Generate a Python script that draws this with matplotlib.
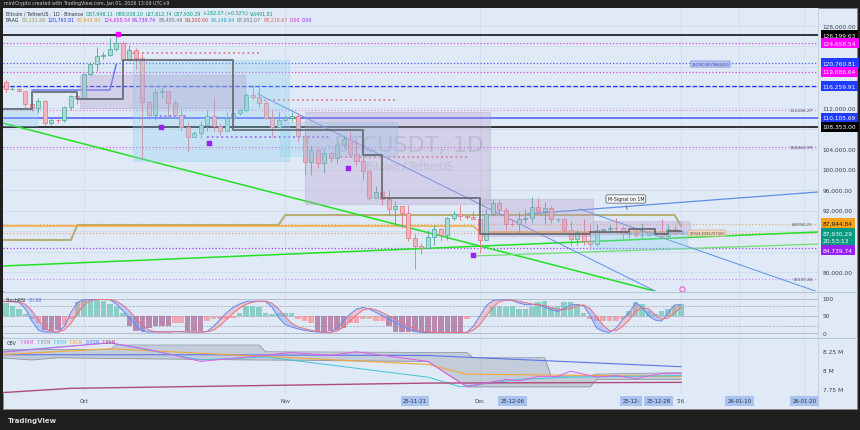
import matplotlib.pyplot as plt
from matplotlib.patches import Rectangle
from matplotlib.lines import Line2D

# x = day index: 0 = 2025-09-18 ... 105 = 2026-01-01
opens = [116400, 117100, 115700, 115700, 115300, 112700, 112000, 113300, 109000, 109700, 109600, 112100, 114300,
         114000, 118600, 120500, 122200, 122400, 123500, 124700, 121400, 123300, 121700,
         113200, 110600, 115200, 115300, 113000, 110700, 108200, 106400, 107200, 108600,
         110500, 108400, 107600, 110100, 111000, 111600, 114500, 114100, 112900, 110000, 108300,
         109600, 110100, 110500, 106500, 101500, 103900, 101300, 103300, 102200, 104700,
         106000, 103000, 101600, 99700, 94500, 95600, 94200, 92200, 92900, 91500,
         86600, 85100, 84700, 86800, 88300, 87300, 90500, 91300, 90900, 90800,
         90400, 86300, 91300, 93500, 92100, 89400, 89300, 90400, 90600, 92700,
         92000, 92500, 90300, 90300, 88100, 86400, 87800, 86100, 85500, 88100,
         88300, 88600, 88500, 87400, 87600, 87200, 87300, 87800, 87800, 87100, 88400,
         87648]
highs = [117900, 117500, 116300, 115900, 115400, 113300, 114000, 113500, 110300, 109800, 112400, 114500, 114800,
         118700, 121000, 123900, 122900, 125700, 126199, 125100, 124200, 123800, 122500,
         113400, 115800, 116000, 115400, 113600, 111900, 109300, 107500, 109400, 111700,
         114000, 109100, 111300, 112000, 111900, 115000, 116400, 116100, 113600, 111600, 111200,
         110600, 111200, 110800, 107300, 104800, 104200, 104100, 103500, 105000, 106700,
         107500, 105300, 104000, 99800, 96800, 96600, 96000, 93800, 92900, 93100,
         87500, 85600, 88100, 89200, 88500, 90700, 91900, 93100, 91200, 92000,
         90400, 92300, 94200, 94100, 92700, 90300, 91800, 92300, 94600, 94500,
         93600, 92800, 90600, 90600, 90000, 88200, 90400, 89500, 89400, 88600,
         89100, 90600, 88900, 87900, 88500, 89500, 88000, 88000, 90300, 89400, 89200,
         88038]
lows = [116100, 115100, 115500, 115200, 112000, 111500, 111100, 108600, 108600, 109100, 109300, 111600, 112700,
        113900, 118400, 119300, 121600, 122200, 123100, 120600, 121100, 119700, 102000,
        109600, 109700, 113900, 110000, 110200, 107500, 103500, 106300, 106100, 107500,
        107400, 106700, 107500, 109700, 110700, 111300, 113800, 112200, 109900, 106300, 108300,
        109400, 109500, 105300, 98900, 98900, 100300, 99300, 101400, 101300, 104300,
        102500, 100800, 98000, 94000, 94500, 93000, 91200, 89300, 88600, 86100,
        80600, 83500, 84700, 85300, 86100, 86300, 90100, 90200, 90300, 90300,
        83800, 86200, 91000, 91600, 88100, 88900, 87700, 89600, 89500, 91600,
        89300, 89500, 89800, 87600, 85100, 85300, 85300, 84500, 85100, 87900,
        87600, 88000, 86500, 86600, 86900, 86600, 87100, 87300, 86800, 86800, 87300,
        87613]
closes = [117100, 115700, 115700, 115300, 112700, 112000, 113300, 109000, 109700, 109600, 112100, 114300, 114000,
          118600, 120500, 122200, 122400, 123500, 124700, 121400, 123300, 121700, 113200,
          110600, 115200, 115300, 113000, 110700, 108200, 106400, 107200, 108600, 110500,
          108400, 107600, 110100, 111000, 111600, 114500, 114100, 112900, 110000, 108300, 109600,
          110100, 110500, 106500, 101500, 103900, 101300, 103300, 102200, 104700, 106000,
          103000, 101600, 99700, 94500, 95600, 94200, 92200, 92900, 91500, 86600,
          85100, 84700, 86800, 88300, 87300, 90500, 91300, 90900, 90800, 90400,
          86300, 91300, 93500, 92100, 89400, 89300, 90400, 90600, 92700, 92000,
          92500, 90300, 90300, 88100, 86400, 87800, 86100, 85500, 88100, 88300,
          88600, 88500, 87400, 87600, 87200, 87300, 87800, 87800, 87100, 88400, 87650,
          87930]

# horizontal levels across the chart
level_price = [126199.63, 124658.54, 120760.81, 119086.64, 116259.91, 111696.27,
               110105.69, 108353.00, 104462.99, 89294.25, 87610.0, 84739.74, 78595.86]
level_color = ['#000000', '#e040e0', '#4a5cf0', '#e040e0', '#2030ff', '#e58ad8',
               '#4a55ff', '#000000', '#e060e0', '#e0b070', '#f0a080', '#a040f0', '#c890f0']
level_style = ['-', ':', ':', ':', '--', ':', '-', '-', ':', ':', ':', ':', ':']

# short dotted segments (start day, end day, price)
seg_x0 = [19, 40, 51, 24, 32]
seg_x1 = [40, 61, 72, 29, 51]
seg_p = [122730, 113560, 102440, 110440, 106340]
seg_color = ['#e07a8a', '#e07a8a', '#e07a8a', '#a040f0', '#a040f0']

# step / trailing lines
gray_x = [0, 5, 12, 19, 36, 56, 59, 74, 91, 97, 101, 103, 105]
gray_p = [111800, 115100, 113750, 121350, 107700, 102830, 94440, 87420, 87800, 88390, 87420, 88000, 88000]
olive_x = [0, 11, 12, 43, 44, 104, 105]
olive_p = [86250, 86250, 89170, 89170, 91120, 91120, 88980]
orange_x = [0, 73, 74, 105]
orange_p = [88980, 88980, 87800, 87800]
blue_x = [5, 17, 18]
blue_p = [115510, 115510, 120585]

# trend lines (day0, price0, day1, price1)
trend = [(0.5, 109070, 101.8, 76000, '#22e022', 1.1),
         (0.5, 81170, 126.1, 87800, '#22e022', 1.1),
         (72.8, 83120, 126.1, 85460, '#6ee06e', 0.9),
         (39.8, 114730, 101.3, 76100, '#5d8fe8', 0.7),
         (89.4, 92290, 126.1, 76100, '#5d8fe8', 0.7),
         (81.3, 91320, 126.1, 95610, '#5d8fe8', 0.9)]

# zones (day0, day1, top, bottom)
zones = [(20.6, 44.6, 121370, 101660, '#8fd0ee'),
         (0.5, 5.8, 112000, 108490, '#8fd0ee'),
         (43.2, 61.2, 109270, 102630, '#8fd0ee'),
         (91.0, 105.9, 87800, 84490, '#8fd0ee'),
         (12.4, 37.8, 118440, 112000, '#b49ccc'),
         (47.1, 75.6, 111220, 93270, '#b49ccc'),
         (74.3, 91.4, 94240, 87020, '#b49ccc'),
         (91.4, 106.4, 89950, 87420, '#b49ccc')]

sig_x = [24.9, 32.3, 53.7, 73.0]
sig_p = [108290, 105170, 100290, 83320]

# Stoch RSI
stoch_k = [92, 92, 92, 90, 70, 35, 8, 3, 3, 3, 20, 60, 90, 97, 98, 98, 98, 97, 85, 65,
           45, 20, 5, 3, 3, 4, 3, 5, 4, 3, 3, 3, 5, 20, 40, 60, 75, 85, 92, 93,
           93, 92, 75, 45, 25, 18, 12, 8, 5, 3, 2, 2, 15, 35, 55, 70, 75, 70, 60, 50,
           40, 30, 20, 12, 5, 2, 2, 2, 2, 2, 2, 2, 2, 20, 50, 80, 95, 97, 97, 95,
           88, 83, 83, 83, 75, 68, 63, 72, 82, 83, 80, 50, 15, 5, 2, 15, 40, 60, 88, 75,
           50, 38, 35, 60, 82, 83]
stoch_d = [95, 93, 92, 91, 84, 65, 38, 15, 5, 3, 9, 28, 57, 82, 95, 98, 98, 98, 93, 82,
           65, 43, 23, 9, 4, 3, 3, 4, 4, 4, 3, 3, 4, 9, 22, 40, 58, 73, 84, 90,
           93, 93, 87, 71, 48, 29, 18, 13, 8, 5, 3, 2, 6, 17, 35, 53, 67, 72, 68, 60,
           50, 40, 30, 21, 12, 6, 3, 2, 2, 2, 2, 2, 2, 8, 24, 50, 75, 91, 96, 96,
           93, 89, 85, 83, 80, 75, 69, 68, 72, 79, 82, 71, 48, 23, 7, 7, 19, 38, 63, 74,
           71, 54, 41, 44, 59, 75]
stoch_hist = [35, 38, 30, 20, 5, -10, -20, -40, -45, -40, -25, -10, 40, 47, 47, 47, 45, 35, 25, 10,
              -30, -45, -45, -35, -30, -30, -30, -20, -20, -45, -45, -45, -15, -10, -10, -8, -5, 10, 30, 30,
              25, 10, 5, 8, 10, 8, -10, -15, -20, -45, -47, -45, -40, -35, -20, -20, -10, -10, -15, -15,
              -30, -47, -47, -47, -47, -47, -47, -47, -47, -47, -47, -47, -10, 0, 0, 0, 25, 28, 25, 30,
              20, 20, 25, 40, 43, 25, 30, 40, 40, 35, 10, -10, -15, -15, -15, -15, -8, 15, 40, 35,
              15, 5, 15, 20, 28, 35]

# OBV panel (day, value in M)
obv_x = [0, 17, 23, 31, 45, 51, 55, 66, 72, 78, 80, 83, 86, 88, 92, 95, 98, 102, 105]
obv_v = [8.24, 8.37, 8.28, 8.12, 8.24, 8.20, 8.25, 8.12, 7.78, 7.88, 7.86, 7.92, 7.92, 7.99, 7.91, 7.93, 7.89, 7.96, 7.96]
cyan_x = [0, 17, 31, 41, 66, 71, 80, 88, 105]
cyan_v = [8.25, 8.37, 8.14, 8.18, 7.91, 7.78, 7.88, 7.91, 7.93]
orng_x = [0, 17, 66, 72, 105]
orng_v = [8.21, 8.29, 8.08, 7.95, 7.92]
blu_x = [0, 30, 66, 105]
blu_v = [8.21, 8.21, 8.20, 8.05]
band_x = [0, 5, 9, 17, 18, 40, 41, 66, 72, 73, 84, 85, 91, 92, 105]
band_hi = [8.28, 8.28, 8.28, 8.28, 8.34, 8.34, 8.25, 8.24, 8.24, 8.17, 8.17, 7.92, 7.93, 7.95, 7.97]
band_lo = [8.17, 8.14, 8.17, 8.16, 8.16, 8.14, 8.14, 8.12, 7.78, 7.78, 7.78, 7.78, 7.78, 7.88, 7.88]
mar_x = [0, 11, 66, 105]
mar_v = [7.70, 7.76, 7.83, 7.84]

# ---------------- layout ----------------
W, H = 860, 431
BG = '#dfeaf6'
GRID = '#cddae8'
fig = plt.figure(figsize=(W / 100, H / 100), dpi=100, facecolor='#1f1f1f')


def fbox(x0, y0, x1, y1):
    return [x0 / W, 1 - y1 / H, (x1 - x0) / W, (y1 - y0) / H]


def ptxt(x, y, s, **kw):
    return fig.text(x / W, 1 - y / H, s, **kw)


fig.patches.append(Rectangle((3 / W, 1 - 410 / H), 854 / W, 401 / H, transform=fig.transFigure,
                             fc=BG, ec='#888888', lw=0.6, zorder=-5))

ax = fig.add_axes(fbox(3, 9, 818, 292))
ax2 = fig.add_axes(fbox(3, 294, 818, 338), sharex=ax)
ax3 = fig.add_axes(fbox(3, 340, 818, 395), sharex=ax)
for a in (ax, ax2, ax3):
    a.set_facecolor(BG)
    for s in a.spines.values():
        s.set_visible(False)
    a.tick_params(left=False, bottom=False, labelleft=False, labelbottom=False)
ax.set_xlim(0.54, 126.1)
ax.set_ylim(76293, 131512)
ax2.set_ylim(-11.4, 117)
ax3.set_ylim(7.684, 8.421)

for yy in (293, 339):
    fig.add_artist(Line2D([3 / W, 857 / W], [1 - yy / H] * 2, color='#b9c6d4', lw=0.8))
fig.add_artist(Line2D([818 / W] * 2, [1 - 9 / H, 1 - 410 / H], color='#c3cfdc', lw=0.6))

month_x = [13, 44, 74, 105]
month_names = ['Oct', 'Nov', 'Dec', "'26"]
mark_x = [64, 79, 97.3, 101.5, 114, 124]
mark_names = ['25-11-21', '25-12-06', '25-12-', '25-12-28', '26-01-10', '26-01-20']

for a in (ax, ax2, ax3):
    for d in month_x + [114, 124]:
        a.axvline(d, color=GRID, lw=0.5, zorder=0)
for p in range(80000, 132000, 4000):
    ax.axhline(p, color=GRID, lw=0.5, zorder=0)

# zones (drawn over the candles, translucent)
for d0, d1, top, bot, c in zones:
    ax.add_patch(Rectangle((d0, bot), d1 - d0, top - bot, fc=c, ec=c, alpha=0.32, lw=0.8, zorder=5.5))

# watermark
ax.text(0.498, 0.516, 'BTCUSDT, 1D', transform=ax.transAxes, ha='center', va='center',
        fontsize=16, color='#8a8f99', alpha=0.35, zorder=1)
ax.text(0.499, 0.442, 'Bitcoin / TetherUS', transform=ax.transAxes, ha='center', va='center',
        fontsize=7, color='#8a8f99', alpha=0.35, zorder=1)

# levels
for p, c, ls in zip(level_price, level_color, level_style):
    lw = 1.1 if ls == '-' else 0.9
    ax.axhline(p, color=c, ls=ls, lw=lw, zorder=2)
for x0, x1, p, c in zip(seg_x0, seg_x1, seg_p, seg_color):
    ax.hlines(p, x0, x1, colors=c, linestyles=':', lw=1.3, zorder=2)

ax.step(gray_x, gray_p, where='post', color='#60656c', lw=1.4, alpha=0.85, zorder=6)
ax.plot(olive_x, olive_p, color='#b3a768', lw=1.5, alpha=0.9, zorder=2)
ax.plot(orange_x, orange_p, color='#f3a73a', lw=1.1, zorder=2)
ax.plot(blue_x, blue_p, color='#5c6bf5', lw=1.0, zorder=2)
for d0, p0, d1, p1, c, lw in trend:
    ax.plot([d0, d1], [p0, p1], color=c, lw=lw, zorder=3)

# candles
w = 0.62
for i, (o, h, l, c) in enumerate(zip(opens, highs, lows, closes)):
    up = c >= o
    edge = '#4aa596' if up else '#e27380'
    face = '#a8dcd3' if up else '#f2b6bc'
    ax.vlines(i, l, h, color=edge, lw=0.6, zorder=4)
    ax.add_patch(Rectangle((i - w / 2, min(o, c)), w, max(abs(c - o), 80),
                           fc=face, ec=edge, lw=0.5, zorder=5))

ax.scatter(sig_x, sig_p, marker='s', s=5, color='#9b1ff0', zorder=7)
ax.scatter([18.3], [126500], marker='s', s=6, color='#ff00ff', zorder=7)
ax.scatter([105.2], [76700], marker='o', s=14, fc='#f6dff2', ec='#d040c0', lw=0.6, zorder=7)

# in-chart level text
for p, s in zip([111696.27, 104462.99, 89294.25, 78595.86],
                ['111696.27', '104462.99', '89294.25', '78595.86']):
    ax.text(125.3, p, s, ha='right', va='center', fontsize=3.2, color='#555b66', style='italic', zorder=8)

ax.text(109.5, 120585, '120760.8079865203', ha='center', va='center', fontsize=2.6, color='#3040a0',
        bbox=dict(boxstyle='round,pad=0.3', fc='#b8c4f4', ec='#8a98e6', lw=0.5), zorder=8)
ax.text(109.0, 87610, '87944.8395707406', ha='center', va='center', fontsize=2.6, color='#6b4a2a',
        bbox=dict(boxstyle='round,pad=0.3', fc='#ead8c4', ec='#d8b898', lw=0.5), zorder=8)
ax.annotate('M-Signal on 1M', xy=(96.7, 91700), xytext=(96.5, 94250), ha='center', va='center',
            fontsize=3.4, color='#222222', zorder=9,
            bbox=dict(boxstyle='round,pad=0.35', fc='#f4f6fa', ec='#555555', lw=0.5),
            arrowprops=dict(arrowstyle='-', color='#555555', lw=0.6))

# right price scale
tick_p = [128000, 112000, 104000, 100000, 96000, 92000, 80000]
for p in tick_p:
    ax.text(1.006, p, f'{p:,.2f}', transform=ax.get_yaxis_transform(), ha='left', va='center',
            fontsize=4.2, color='#3a3f48', clip_on=False)

tag_text = ['126,199.63', '124,658.54', '120,760.81', '119,086.64', '116,259.91', '110,105.69',
            '108,353.00', '87,944.84', '87,930.29\n20:53:13', '84,739.74']
tag_at = [126199.63, 124658.54, 120760.81, 119086.64, 116259.91, 110105.69,
          108353.00, 89560, 86900, 84290]
tag_bg = ['#000000', '#ff00ff', '#1f3cff', '#ff00ff', '#1f3cff', '#1f3cff',
          '#000000', '#f7a21b', '#089981', '#9a1ff2']
tag_fg = ['white', 'white', 'white', 'white', 'white', 'white', 'white', '#1a1a1a', 'white', 'white']
for s, p, bg, fg in zip(tag_text, tag_at, tag_bg, tag_fg):
    ax.text(1.006, p, s, transform=ax.get_yaxis_transform(), ha='left', va='center', fontsize=4.2,
            color=fg, linespacing=1.5, clip_on=False, zorder=10,
            bbox=dict(boxstyle='square,pad=0.4', fc=bg, ec='none'))

# Stoch RSI
idx = list(range(len(stoch_k)))
for v, ls in [(100, '-'), (0, '-'), (50, '-'), (80, '--'), (20, '--')]:
    ax2.axhline(v, color='#a3acb8', lw=0.5, ls=ls, zorder=1)
hcol = ['#7ccabd' if v > 0 else ('#b27aa2' if v <= -30 else '#f29ca4') for v in stoch_hist]
ax2.bar(idx, stoch_hist, bottom=50, width=0.85, color=hcol, alpha=0.85, zorder=2)
ax2.fill_between(idx, stoch_k, stoch_d, where=[k >= d for k, d in zip(stoch_k, stoch_d)],
                 interpolate=True, color='#f08892', alpha=0.35, lw=0, zorder=3)
ax2.fill_between(idx, stoch_k, stoch_d, where=[k < d for k, d in zip(stoch_k, stoch_d)],
                 interpolate=True, color='#7f9cf5', alpha=0.4, lw=0, zorder=3)
ax2.plot(idx, stoch_k, color='#6a87ee', lw=0.7, zorder=4)
ax2.plot(idx, stoch_d, color='#ef6f7c', lw=0.7, zorder=4)
for v in (100, 50, 0):
    ax2.text(1.006, v, str(v), transform=ax2.get_yaxis_transform(), ha='left', va='center',
             fontsize=4.2, color='#3a3f48', clip_on=False)

# OBV
ax3.fill_between(band_x, band_lo, band_hi, color='#a2abb6', alpha=0.45, lw=0, zorder=1)
ax3.plot(band_x, band_hi, color='#8f98a3', lw=0.6, zorder=2)
ax3.plot(band_x, band_lo, color='#8f98a3', lw=0.6, zorder=2)
ax3.plot(blu_x, blu_v, color='#5b73ee', lw=0.8, zorder=3)
ax3.plot(orng_x, orng_v, color='#f3a73a', lw=0.8, zorder=3)
ax3.plot(cyan_x, cyan_v, color='#3fc4dc', lw=0.7, zorder=3)
ax3.plot(obv_x, obv_v, color='#e45ae8', lw=0.7, zorder=4)
ax3.plot(mar_x, mar_v, color='#b04a7a', lw=1.0, zorder=3)
for v, s in [(8.25, '8.25 M'), (8.0, '8 M'), (7.75, '7.75 M')]:
    ax3.text(1.006, v, s, transform=ax3.get_yaxis_transform(), ha='left', va='center',
             fontsize=4.2, color='#3a3f48', clip_on=False)

# time axis
for d, s in zip(month_x, month_names):
    ax3.text(d, -0.125, s, transform=ax3.get_xaxis_transform(), ha='center', va='center',
             fontsize=3.8, color='#3a3f48', clip_on=False)
for d, s in zip(mark_x, mark_names):
    ax3.text(d, -0.125, s, transform=ax3.get_xaxis_transform(), ha='center', va='center',
             fontsize=3.8, color='#2a2e39', clip_on=False,
             bbox=dict(boxstyle='square,pad=0.45', fc='#a9c3f0', ec='none'))

# header texts
ptxt(4, 4, 'mintCrypto created with TradingView.com, Jan 01, 2026 13:08 UTC+9',
     fontsize=3.4, color='#c8c8c8', va='center')
ptxt(8, 421, 'TradingView', fontsize=5, color='#d8d8d8', va='center', weight='bold')
ax3.text(0.004, 0.93, 'OBV', transform=ax3.transAxes, fontsize=3.3, color='#3a3f48', va='center')

renderer = fig.canvas.get_renderer()


def chain(x, y, parts, size):
    for s, c in parts:
        t = ptxt(x, y, s, fontsize=size, color=c, va='center')
        x += t.get_window_extent(renderer).width + 2


chain(6, 14, [('Bitcoin / TetherUS · 1D · Binance', '#2a2e39'),
              ('O87,648.11', '#089981'), ('H88,038.10', '#089981'), ('L87,612.74', '#089981'),
              ('C87,930.29', '#089981'), ('+282.07 (+0.32%)', '#089981'), ('Vol491.81', '#089981')], 3.4)
chain(6, 20, [('BAAG', '#2a2e39'), ('85,231.89', '#a09a40'), ('120,760.81', '#3040f0'),
              ('87,944.84', '#f09a20'), ('124,658.54', '#e020e0'), ('84,739.74', '#9a1ff2'),
              ('88,485.49', '#707070'), ('89,200.00', '#c04040'), ('85,148.64', '#20a0c0'),
              ('87,952.07', '#707070'), ('88,216.67', '#e06060'), ('0.00', '#e020e0'), ('0.00', '#9a1ff2')], 3.4)
chain(6, 300, [('StochRSI', '#2a2e39'), ('80.98', '#5b73ee')], 3.3)
chain(20, 343, [('7.96M', '#e45ae8'), ('7.85M', '#8f98a3'), ('7.95M', '#3fc4dc'),
                ('7.91M', '#f3a73a'), ('8.05M', '#5b73ee'), ('7.85M', '#b04a7a')], 3.3)

fig.savefig('out.png', dpi=100, facecolor=fig.get_facecolor())
